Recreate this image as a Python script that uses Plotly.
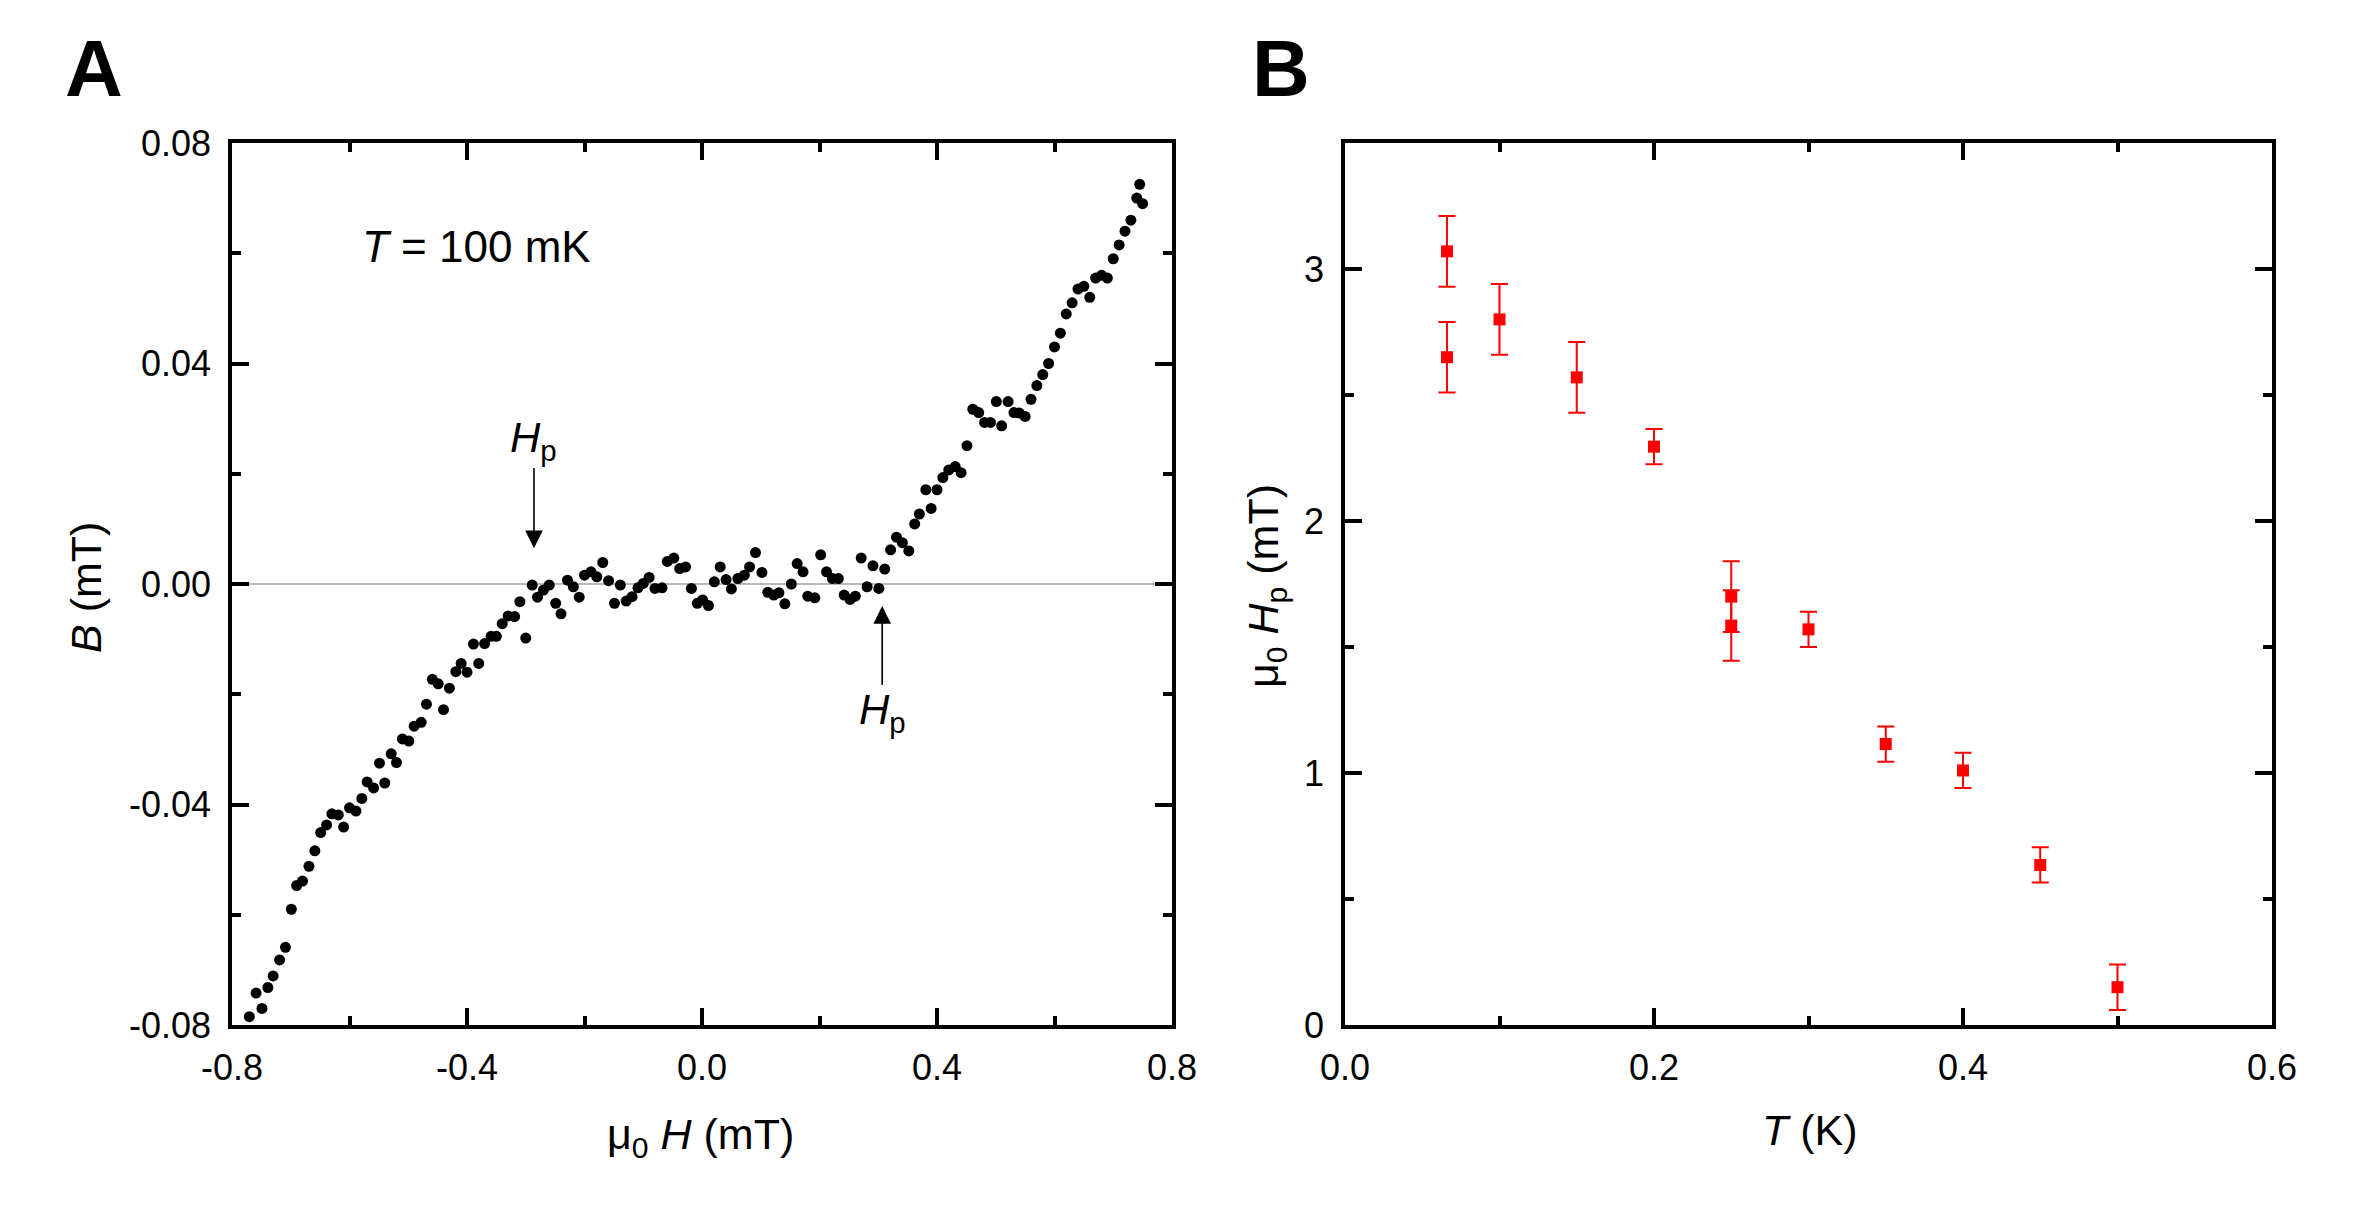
import plotly.graph_objects as go

# ---------------- Panel A data: B vs mu0 H at T = 100 mK ----------------
h_field = [
    -0.7705, -0.759, -0.749, -0.739, -0.730, -0.719, -0.709, -0.699, -0.690, -0.680,
    -0.669, -0.659, -0.649, -0.639, -0.630, -0.619, -0.610, -0.600, -0.589, -0.579,
    -0.570, -0.559, -0.549, -0.540, -0.529, -0.520, -0.510, -0.499, -0.490, -0.478,
    -0.469, -0.459, -0.449, -0.440, -0.430, -0.419, -0.410, -0.400, -0.389, -0.380,
    -0.370, -0.359, -0.350, -0.340, -0.330, -0.319, -0.310, -0.300,
    -0.289, -0.280, -0.270, -0.260, -0.249, -0.240, -0.229, -0.219, -0.209,
    -0.200, -0.189, -0.179, -0.169, -0.159, -0.149, -0.139, -0.129, -0.119, -0.109,
    -0.100, -0.090, -0.080, -0.068, -0.059, -0.048, -0.038, -0.028, -0.018, -0.008,
    0.001, 0.011, 0.021, 0.031, 0.041, 0.050, 0.061, 0.072, 0.081, 0.091,
    0.102, 0.112, 0.122, 0.131, 0.141, 0.152, 0.162, 0.172, 0.180, 0.192,
    0.202, 0.212, 0.222, 0.232, 0.242, 0.252, 0.261, 0.271, 0.281, 0.291,
    0.301, 0.311, 0.321, 0.331, 0.341, 0.352, 0.362,
    0.370, 0.381, 0.390, 0.400, 0.410, 0.420, 0.431, 0.441, 0.451, 0.461,
    0.471, 0.481, 0.491, 0.501, 0.510, 0.521, 0.531, 0.540, 0.550,
    0.560, 0.570, 0.580, 0.590, 0.600, 0.610, 0.620, 0.630, 0.640, 0.650,
    0.660, 0.670, 0.680, 0.690, 0.700, 0.710, 0.720, 0.730, 0.740, 0.745, 0.750,
]
b_field = [
    -0.0785, -0.0742, -0.0770, -0.0732, -0.0711, -0.0682, -0.0659, -0.0590, -0.0547, -0.0539,
    -0.0512, -0.0484, -0.0451, -0.0437, -0.0417, -0.0419, -0.0441, -0.0406, -0.0412, -0.0389,
    -0.0359, -0.0370, -0.0325, -0.0361, -0.0308, -0.0324, -0.0281, -0.0285, -0.0258, -0.0251,
    -0.0218, -0.0173, -0.0181, -0.0228, -0.0189, -0.0159, -0.0144, -0.0160, -0.0109, -0.0144,
    -0.0108, -0.0095, -0.0095, -0.0072, -0.0058, -0.0059, -0.0032, -0.0098,
    -0.0002, -0.0024, -0.0011, -0.0002, -0.0035, -0.0054, 0.0007, -0.0005, -0.0024,
    0.0016, 0.0022, 0.0013, 0.0039, 0.0006, -0.0035, -0.0002, -0.0031, -0.0023, -0.0007,
    0.0001, 0.0012, -0.0008, -0.0007, 0.0041, 0.0047, 0.0028, 0.0031, -0.0008, -0.0035,
    -0.0029, -0.0039, 0.0004, 0.0031, 0.0008, -0.0009, 0.0010, 0.0016, 0.0031, 0.0057,
    0.0021, -0.0015, -0.0020, -0.0016, -0.0036, 0.0000, 0.0037, 0.0022, -0.0022, -0.0025,
    0.0053, 0.0022, 0.0010, 0.0010, -0.0020, -0.0028, -0.0022, 0.0047, -0.0005, 0.0033,
    -0.0008, 0.0027, 0.0062, 0.0085, 0.0075, 0.0060, 0.0109,
    0.0127, 0.0171, 0.0137, 0.0171, 0.0193, 0.0207, 0.0213, 0.0202, 0.0251, 0.0317,
    0.0311, 0.0293, 0.0293, 0.0331, 0.0287, 0.0331, 0.0311, 0.0310, 0.0304,
    0.0335, 0.0360, 0.0380, 0.0400, 0.0430, 0.0455, 0.0490, 0.0510, 0.0535, 0.0540,
    0.0520, 0.0555, 0.0560, 0.0555, 0.0590, 0.0615, 0.0640, 0.0660, 0.0700, 0.0725, 0.0690,
]

a_xticks = [-0.8, -0.4, 0.0, 0.4, 0.8]
a_xticktext = ["-0.8", "-0.4", "0.0", "0.4", "0.8"]
a_xminor = [-0.6, -0.2, 0.2, 0.6]
a_yticks = [-0.08, -0.04, 0.0, 0.04, 0.08]
a_yticktext = ["-0.08", "-0.04", "0.00", "0.04", "0.08"]
a_yminor = [-0.06, -0.02, 0.02, 0.06]

# ---------------- Panel B data: mu0 Hp vs T ----------------
temp_k = [0.066, 0.066, 0.100, 0.150, 0.200, 0.250, 0.250, 0.300, 0.350, 0.400, 0.450, 0.500]
hp_mt = [3.07, 2.65, 2.80, 2.57, 2.295, 1.70, 1.585, 1.57, 1.115, 1.01, 0.635, 0.15]
hp_err = [0.14, 0.14, 0.14, 0.14, 0.07, 0.14, 0.14, 0.07, 0.07, 0.07, 0.07, 0.09]

b_xticks = [0.0, 0.2, 0.4, 0.6]
b_xticktext = ["0.0", "0.2", "0.4", "0.6"]
b_xminor = [0.1, 0.3, 0.5]
b_yticks = [0, 1, 2, 3]
b_yticktext = ["0", "1", "2", "3"]
b_yminor = [0.5, 1.5, 2.5, 3.5]

# ---------------- Figure ----------------
W, H = 2363, 1232
FONT = "Liberation Sans, Arial, Helvetica, sans-serif"


def px(xp):
    return xp / W


def py(yp):
    return 1 - yp / H


fig = go.Figure()

fig.add_trace(go.Scatter(
    x=h_field, y=b_field, mode="markers",
    marker=dict(symbol="circle", size=11, color="black", line=dict(width=0)),
    xaxis="x", yaxis="y", showlegend=False,
))

fig.add_trace(go.Scatter(
    x=temp_k, y=hp_mt, mode="markers",
    marker=dict(symbol="square", size=12, color="#ff0000", line=dict(width=0)),
    error_y=dict(type="data", array=hp_err, visible=True, color="#ff0000",
                 thickness=2, width=8.5),
    xaxis="x2", yaxis="y2", showlegend=False,
))

axis_common = dict(
    showline=True, linecolor="black", linewidth=3.5, mirror="ticks",
    ticks="inside", ticklen=17, tickwidth=3.5, tickcolor="black",
    showgrid=False, tickmode="array", automargin=False,
    tickfont=dict(family=FONT, size=36, color="black"),
)
minor_common = dict(ticks="inside", ticklen=9, tickwidth=3.5,
                    tickcolor="black", showgrid=False)

fig.update_layout(
    template="none",
    width=W, height=H,
    margin=dict(l=0, r=0, t=0, b=0, pad=0, autoexpand=False),
    paper_bgcolor="white", plot_bgcolor="white",
    font=dict(family=FONT, color="black"),
    showlegend=False,
    xaxis=dict(
        domain=[px(232), px(1172)], range=[-0.8, 0.8], anchor="y",
        tickvals=a_xticks, ticktext=a_xticktext, zeroline=False,
        minor=dict(tickvals=a_xminor, **minor_common),
        ticklabelstandoff=8,
        **axis_common,
    ),
    yaxis=dict(
        domain=[py(1025), py(143)], range=[-0.08, 0.08], anchor="x",
        tickvals=a_yticks, ticktext=a_yticktext,
        zeroline=True, zerolinecolor="#b8b8b8", zerolinewidth=2,
        minor=dict(tickvals=a_yminor, **minor_common),
        ticklabelstandoff=10,
        **axis_common,
    ),
    xaxis2=dict(
        domain=[px(1345), px(2272)], range=[0, 0.6], anchor="y2",
        tickvals=b_xticks, ticktext=b_xticktext, zeroline=False,
        minor=dict(tickvals=b_xminor, **minor_common),
        ticklabelstandoff=8,
        **axis_common,
    ),
    yaxis2=dict(
        domain=[py(1025), py(143)], range=[0, 3.5], anchor="x2",
        tickvals=b_yticks, ticktext=b_yticktext, zeroline=False,
        minor=dict(tickvals=b_yminor, **minor_common),
        ticklabelstandoff=10,
        **axis_common,
    ),
)

title_font = dict(family=FONT, size=43, color="black")
letter_font = dict(family="Liberation Sans Narrow, Liberation Sans, Arial", size=80, color="black")
annotations = [
    # panel letters
    dict(text="<b>A</b>", xref="paper", yref="paper", x=px(94), y=py(68),
         xanchor="center", yanchor="middle", showarrow=False, font=letter_font),
    dict(text="<b>B</b>", xref="paper", yref="paper", x=px(1281), y=py(68),
         xanchor="center", yanchor="middle", showarrow=False, font=letter_font),
    # axis titles
    dict(text="μ<sub>0</sub> <i>H</i> (mT)", xref="paper", yref="paper",
         x=px(701), y=py(1137), xanchor="center", yanchor="middle",
         showarrow=False, font=title_font),
    dict(text="<i>B</i> (mT)", xref="paper", yref="paper",
         x=px(86), y=py(588), xanchor="center", yanchor="middle",
         textangle=-90, showarrow=False, font=title_font),
    dict(text="<i>T</i> (K)", xref="paper", yref="paper",
         x=px(1810), y=py(1130), xanchor="center", yanchor="middle",
         showarrow=False, font=title_font),
    dict(text="μ<sub>0</sub> <i>H</i><sub>p</sub> (mT)", xref="paper", yref="paper",
         x=px(1266), y=py(586), xanchor="center", yanchor="middle",
         textangle=-90, showarrow=False, font=title_font),
    # in-plot label
    dict(text="<i>T</i> = 100 mK", xref="x", yref="y", x=-0.383, y=0.0612,
         xanchor="center", yanchor="middle", showarrow=False,
         font=dict(family=FONT, size=44, color="black")),
    # H_p labels with arrows pointing at the plateau edges
    dict(text="<i>H</i><sub>p</sub>", xref="x", yref="y", axref="x", ayref="y",
         x=-0.286, y=0.0065, ax=-0.286, ay=0.0261,
         xanchor="center", yanchor="middle",
         showarrow=True, arrowhead=2, arrowsize=2.2, arrowwidth=1.6, arrowcolor="black",
         font=dict(family=FONT, size=42, color="black")),
    dict(text="<i>H</i><sub>p</sub>", xref="x", yref="y", axref="x", ayref="y",
         x=0.3067, y=-0.0040, ax=0.3067, ay=-0.0234,
         xanchor="center", yanchor="middle",
         showarrow=True, arrowhead=2, arrowsize=2.2, arrowwidth=1.6, arrowcolor="black",
         font=dict(family=FONT, size=42, color="black")),
]
fig.update_layout(annotations=annotations)

fig.write_html("out.html")
